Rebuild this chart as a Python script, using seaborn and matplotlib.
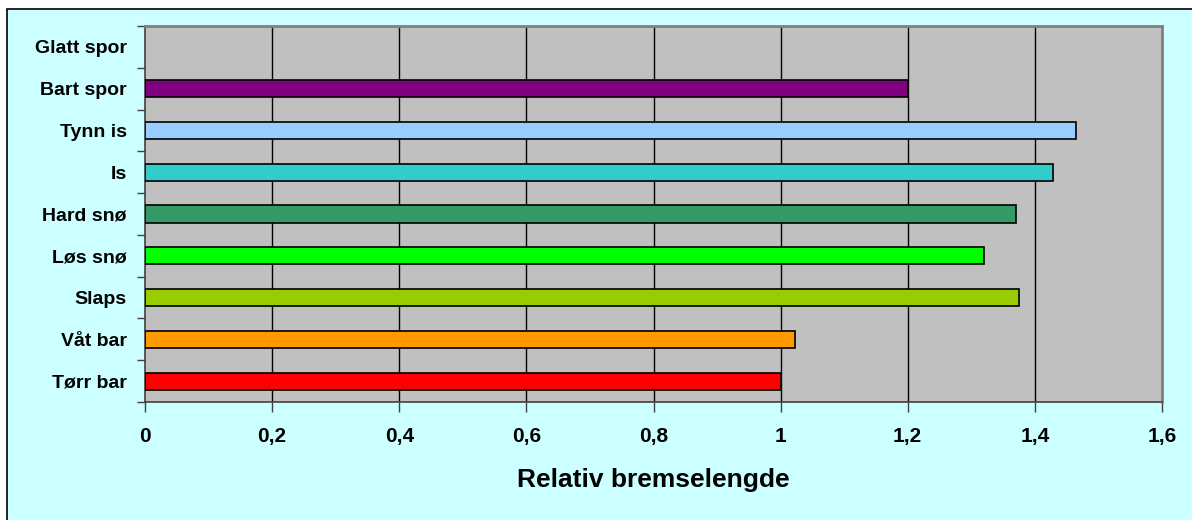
import matplotlib
matplotlib.use("Agg")
import matplotlib.pyplot as plt
import matplotlib.patches as mpatches
import seaborn as sns
import pandas as pd
import numpy as np

categories = ["Glatt spor", "Bart spor", "Tynn is", "Is", "Hard snø",
              "Løs snø", "Slaps", "Våt bar", "Tørr bar"]
values = [np.nan, 1.20, 1.465, 1.428, 1.37, 1.32, 1.375, 1.023, 1.00]
colors = ["#C0C0C0", "#800080", "#99CCFF", "#33CCCC", "#339966",
          "#00FF00", "#99CC00", "#FF9900", "#FF0000"]
xticks = [0, 0.2, 0.4, 0.6, 0.8, 1.0, 1.2, 1.4, 1.6]
xticklabels = ["0", "0,2", "0,4", "0,6", "0,8", "1", "1,2", "1,4", "1,6"]
xlabel = "Relativ bremselengde"

sns.set_theme(style="white")
plt.rcParams["font.family"] = ["Liberation Sans", "DejaVu Sans"]
plt.rcParams["font.weight"] = "bold"

W, H = 1192, 520
fig = plt.figure(figsize=(W / 100, H / 100), dpi=100)
fig.patch.set_facecolor("white")

# cyan chart-area background with black top/left border
bg = mpatches.Rectangle((7.5 / W, -0.1), 1.2, 1 - 8.5 / H + 0.1,
                        transform=fig.transFigure, facecolor="#CCFFFF",
                        edgecolor="black", linewidth=1.2, zorder=-10)
fig.patches.append(bg)

left, right, top, bottom = 145, 1162, 26, 402
ax = fig.add_axes([left / W, 1 - bottom / H, (right - left) / W, (bottom - top) / H])
ax.set_zorder(5)
ax.set_facecolor("#C0C0C0")

df = pd.DataFrame({"cat": categories, "val": values})
sns.barplot(data=df, x="val", y="cat", hue="cat", order=categories,
            hue_order=categories, palette=colors, legend=False,
            orient="h", width=0.41, edgecolor="black", linewidth=1.2,
            saturation=1, ax=ax, zorder=3)

ax.set_xlim(0, 1.6)
ax.set_ylim(len(categories) - 0.5, -0.5)
ax.set_xticks(xticks)
ax.set_xticklabels(xticklabels, fontsize=15, fontweight="bold", color="black")
ax.tick_params(axis="x", direction="out", length=7, width=1, color="#404040",
               pad=11, bottom=True)

ax.set_yticks(range(len(categories)))
ax.set_yticklabels(categories, fontsize=14, fontweight="bold", color="black")
ax.set_yticks(np.arange(-0.5, len(categories), 1.0), minor=True)
ax.tick_params(axis="y", which="major", length=0, pad=13, left=False)
ax.tick_params(axis="y", which="minor", direction="out", length=6, width=1,
               color="#404040", left=True)

ax.set_ylabel("")
ax.set_xlabel(xlabel, fontsize=19, fontweight="bold", color="black")
ax.xaxis.set_label_coords(0.5, (bottom - 480) / (bottom - top))
ax.xaxis.label.set_va("center")

ax.grid(False)
for x in xticks[1:-1]:
    ax.axvline(x, color="black", linewidth=1, zorder=1)

for s in ["left", "bottom"]:
    ax.spines[s].set_color("#404040")
    ax.spines[s].set_linewidth(1.2)
for s in ["top", "right"]:
    ax.spines[s].set_color("#808080")
    ax.spines[s].set_linewidth(2)
    ax.spines[s].set_visible(True)

fig.savefig("out.png", dpi=100, facecolor=fig.get_facecolor())
